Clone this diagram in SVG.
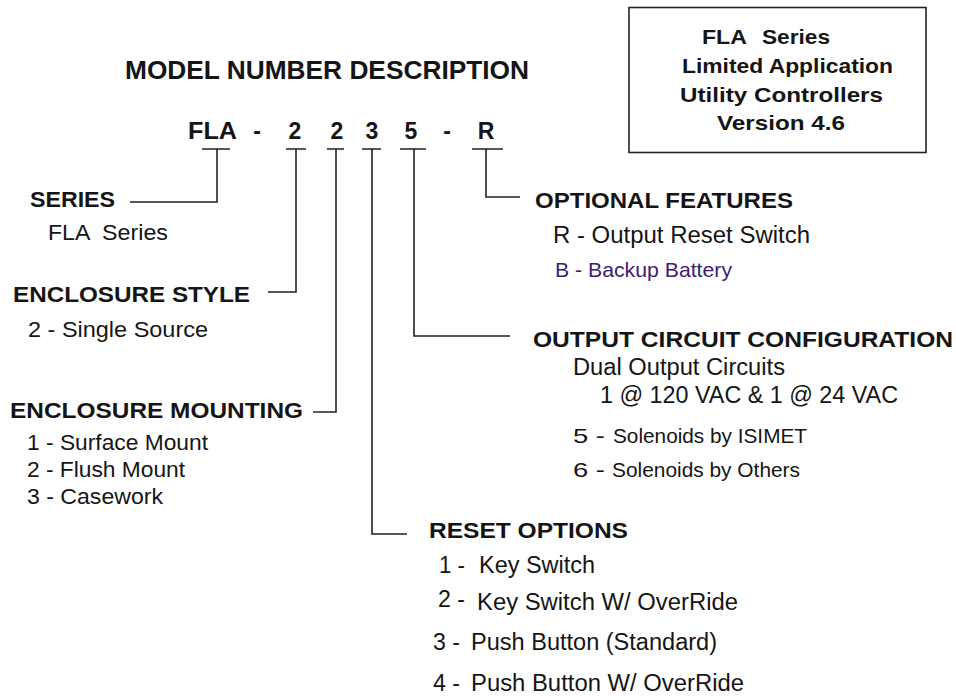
<svg xmlns="http://www.w3.org/2000/svg" width="956" height="696" viewBox="0 0 956 696">
<style>
text{font-family:"Liberation Sans",Arial,sans-serif;fill:#151515}
.b{font-weight:bold;font-size:22px}
.r{font-size:23px}
.s{font-size:21px}
.t{font-weight:bold;font-size:25px}
.m{font-weight:bold;font-size:23px;text-anchor:middle}
.bx{font-weight:bold;font-size:21px}
.pur{fill:#3d2070}
.ln{fill:none;stroke:#222;stroke-width:1.6}
</style>
<rect width="956" height="696" fill="#fff"/>
<g id="infobox">
<rect x="629" y="7.5" width="297" height="145" fill="none" stroke="#222" stroke-width="1.6"/>
<text class="bx" y="44"><tspan x="702" textLength="44" lengthAdjust="spacingAndGlyphs">FLA</tspan> <tspan x="762" textLength="68" lengthAdjust="spacingAndGlyphs">Series</tspan></text>
<text class="bx" x="682" y="73" textLength="211" lengthAdjust="spacingAndGlyphs">Limited Application</text>
<text class="bx" x="680" y="102" textLength="203" lengthAdjust="spacingAndGlyphs">Utility Controllers</text>
<text class="bx" x="717" y="130" textLength="128" lengthAdjust="spacingAndGlyphs">Version 4.6</text>
</g>
<g id="title">
<text class="t" x="125" y="79" textLength="404" lengthAdjust="spacingAndGlyphs">MODEL NUMBER DESCRIPTION</text>
</g>
<g id="model-number">
<text class="b" x="188" y="139" style="font-size:23px" textLength="49" lengthAdjust="spacingAndGlyphs">FLA</text>
<text class="m" x="257" y="139">-</text>
<text class="m" x="295" y="139">2</text>
<text class="m" x="337" y="139">2</text>
<text class="m" x="372" y="139">3</text>
<text class="m" x="411" y="139">5</text>
<text class="m" x="447" y="139">-</text>
<text class="m" x="486" y="139">R</text>
</g>
<g id="connectors">
<path class="ln" d="M202,149H230M217,149V202H130"/>
<path class="ln" d="M286,149H306M296,149V292H268"/>
<path class="ln" d="M327,149H344M336,149V412H313"/>
<path class="ln" d="M362,149H381M372,149V534H407"/>
<path class="ln" d="M400,149H426M414,149V336H510"/>
<path class="ln" d="M472,149H503M486,149V197H520"/>
</g>
<g id="series">
<text class="b" x="30" y="207" textLength="85" lengthAdjust="spacingAndGlyphs">SERIES</text>
<text class="r" y="240" style="font-size:22px"><tspan x="48" textLength="41" lengthAdjust="spacingAndGlyphs">FLA</tspan> <tspan x="102" textLength="66" lengthAdjust="spacingAndGlyphs">Series</tspan></text>
</g>
<g id="enclosure-style">
<text class="b" x="13" y="302" textLength="237" lengthAdjust="spacingAndGlyphs">ENCLOSURE STYLE</text>
<text class="r" x="28" y="337" style="font-size:22px" textLength="180" lengthAdjust="spacingAndGlyphs">2 - Single Source</text>
</g>
<g id="enclosure-mounting">
<text class="b" x="10" y="418" textLength="293" lengthAdjust="spacingAndGlyphs">ENCLOSURE MOUNTING</text>
<text class="r" x="27" y="450" style="font-size:22px" textLength="181" lengthAdjust="spacingAndGlyphs">1 - Surface Mount</text>
<text class="r" x="27" y="477" style="font-size:22px" textLength="158" lengthAdjust="spacingAndGlyphs">2 - Flush Mount</text>
<text class="r" x="27" y="504" style="font-size:22px" textLength="136" lengthAdjust="spacingAndGlyphs">3 - Casework</text>
</g>
<g id="optional-features">
<text class="b" x="535" y="208" textLength="258" lengthAdjust="spacingAndGlyphs">OPTIONAL FEATURES</text>
<text class="r" x="553" y="243" textLength="257" lengthAdjust="spacingAndGlyphs">R - Output Reset Switch</text>
<text class="s pur" x="555" y="277" textLength="177" lengthAdjust="spacingAndGlyphs">B - Backup Battery</text>
</g>
<g id="output-circuit">
<text class="b" x="533" y="347" textLength="420" lengthAdjust="spacingAndGlyphs">OUTPUT CIRCUIT CONFIGURATION</text>
<text class="r" x="573" y="375" textLength="212" lengthAdjust="spacingAndGlyphs">Dual Output Circuits</text>
<text class="r" x="600" y="403" textLength="298" lengthAdjust="spacingAndGlyphs">1 @ 120 VAC &amp; 1 @ 24 VAC</text>
<text class="s" y="443"><tspan x="573" textLength="32" lengthAdjust="spacingAndGlyphs">5 -</tspan> <tspan x="613" textLength="194" lengthAdjust="spacingAndGlyphs">Solenoids by ISIMET</tspan></text>
<text class="s" y="477"><tspan x="573" textLength="32" lengthAdjust="spacingAndGlyphs">6 -</tspan> <tspan x="612" textLength="188" lengthAdjust="spacingAndGlyphs">Solenoids by Others</tspan></text>
</g>
<g id="reset-options">
<text class="b" x="429" y="538" textLength="199" lengthAdjust="spacingAndGlyphs">RESET OPTIONS</text>
<text class="r" y="573"><tspan x="439" textLength="26" lengthAdjust="spacingAndGlyphs">1 -</tspan> <tspan x="479" textLength="116" lengthAdjust="spacingAndGlyphs">Key Switch</tspan></text>
<text class="r" y="610"><tspan x="438" y="607" textLength="27" lengthAdjust="spacingAndGlyphs">2 -</tspan> <tspan x="477" y="610" textLength="261" lengthAdjust="spacingAndGlyphs">Key Switch W/ OverRide</tspan></text>
<text class="r" y="650"><tspan x="433" textLength="27" lengthAdjust="spacingAndGlyphs">3 -</tspan> <tspan x="471" textLength="246" lengthAdjust="spacingAndGlyphs">Push Button (Standard)</tspan></text>
<text class="r" y="691"><tspan x="433" textLength="27" lengthAdjust="spacingAndGlyphs">4 -</tspan> <tspan x="471" textLength="273" lengthAdjust="spacingAndGlyphs">Push Button W/ OverRide</tspan></text>
</g>
</svg>
